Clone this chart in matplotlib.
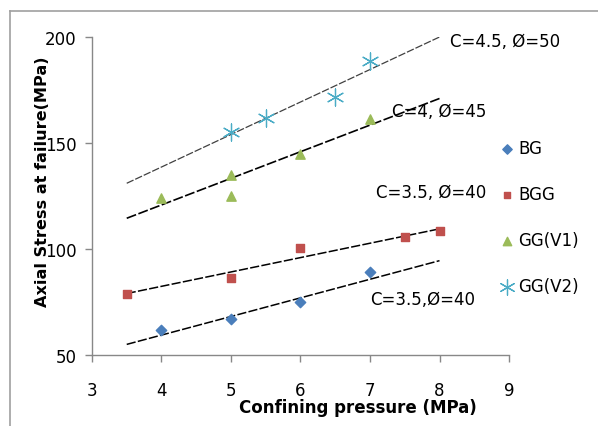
import matplotlib
matplotlib.use("Agg")
import matplotlib.pyplot as plt
from matplotlib.lines import Line2D

# Data
bg_x = [4, 5, 6, 7]
bg_y = [62, 67, 75, 89]
bgg_x = [3.5, 5, 6, 7.5, 8]
bgg_y = [79, 86.5, 100.5, 105.5, 108.5]
v1_x = [4, 5, 5, 6, 7]
v1_y = [124, 135, 125, 145, 161.5]
v2_x = [5, 5.5, 6.5, 7]
v2_y = [155, 162, 171.5, 188.5]

# Trend lines (values at x = 3.5 and x = 8)
trend_x = [3.5, 8]
trend_v2 = [131, 200]
trend_v1 = [114.5, 171]
trend_bgg = [79, 109.5]
trend_bg = [55, 94.5]

trend_labels = ["C=4.5, Ø=50", "C=4, Ø=45", "C=3.5, Ø=40", "C=3.5,Ø=40"]
x_ticks = [3, 4, 5, 6, 7, 8, 9]
y_ticks = [50, 100, 150, 200]

plt.rcParams['font.family'] = ['DejaVu Sans']

fig = plt.figure(figsize=(5.98, 4.27), dpi=100)
ax = fig.add_axes([0.1538, 0.1663, 0.8512 - 0.1538, 0.911 - 0.1663])

# chart border (top and left visible)
fig.add_artist(Line2D([10/598, 1.0], [1 - 12/427, 1 - 12/427], color='#a0a0a0', lw=1.2, transform=fig.transFigure))
fig.add_artist(Line2D([10/598, 10/598], [0.0, 1 - 12/427], color='#a0a0a0', lw=1.2, transform=fig.transFigure))

dash = (0, (6, 1.5))
ax.plot(trend_x, trend_v2, color='#404040', lw=0.9, linestyle=dash)
ax.plot(trend_x, trend_v1, color='black', lw=1.2, linestyle=dash)
ax.plot(trend_x, trend_bgg, color='black', lw=1.1, linestyle=dash)
ax.plot(trend_x, trend_bg, color='black', lw=1.1, linestyle=dash)

ax.scatter(bg_x, bg_y, marker='D', s=28, color='#4a7ebb', label='BG', zorder=3)
ax.scatter(bgg_x, bgg_y, marker='s', s=30, color='#c0504d', label='BGG', zorder=3)
ax.scatter(v1_x, v1_y, marker='^', s=45, color='#9bbb59', label='GG(V1)', zorder=3)
ax.scatter(v2_x, v2_y, marker=(6, 2, 0), s=150, color='#4bacc6', linewidths=0.9, label='GG(V2)', zorder=3)

ax.set_xlim(3, 9)
ax.set_ylim(50, 200)
ax.set_xticks(x_ticks)
ax.set_yticks(y_ticks)
ax.tick_params(labelsize=12, color='#888888', length=5, width=1, direction='out', pad=14)
ax.tick_params(axis='y', pad=6)
for s in ['top', 'right']:
    ax.spines[s].set_visible(False)
for s in ['left', 'bottom']:
    ax.spines[s].set_color('#888888')
    ax.spines[s].set_linewidth(1.0)

fs = 12
ax.text(8.15, 198, trend_labels[0], fontsize=fs, va='center', ha='left')
ax.text(7.32, 165, trend_labels[1], fontsize=fs, va='center', ha='left')
ax.text(7.08, 127, trend_labels[2], fontsize=fs, va='center', ha='left')
ax.text(7.0, 76.5, trend_labels[3], fontsize=fs, va='center', ha='left')

ax.set_xlabel('Confining pressure (MPa)', fontsize=12, fontweight='bold')
ax.xaxis.set_label_coords(0.638, -0.135)
ax.set_ylabel('Axial Stress at failure(MPa)', fontsize=11.6, fontweight='bold')
ax.yaxis.set_label_coords(-0.10, 0.547)

leg = ax.legend(loc='upper left', bbox_to_anchor=(0.935, 0.725), frameon=False,
                fontsize=12, handletextpad=0.1, labelspacing=1.68, handlelength=1.2,
                markerscale=0.9)

fig.savefig('out.png', dpi=100)
